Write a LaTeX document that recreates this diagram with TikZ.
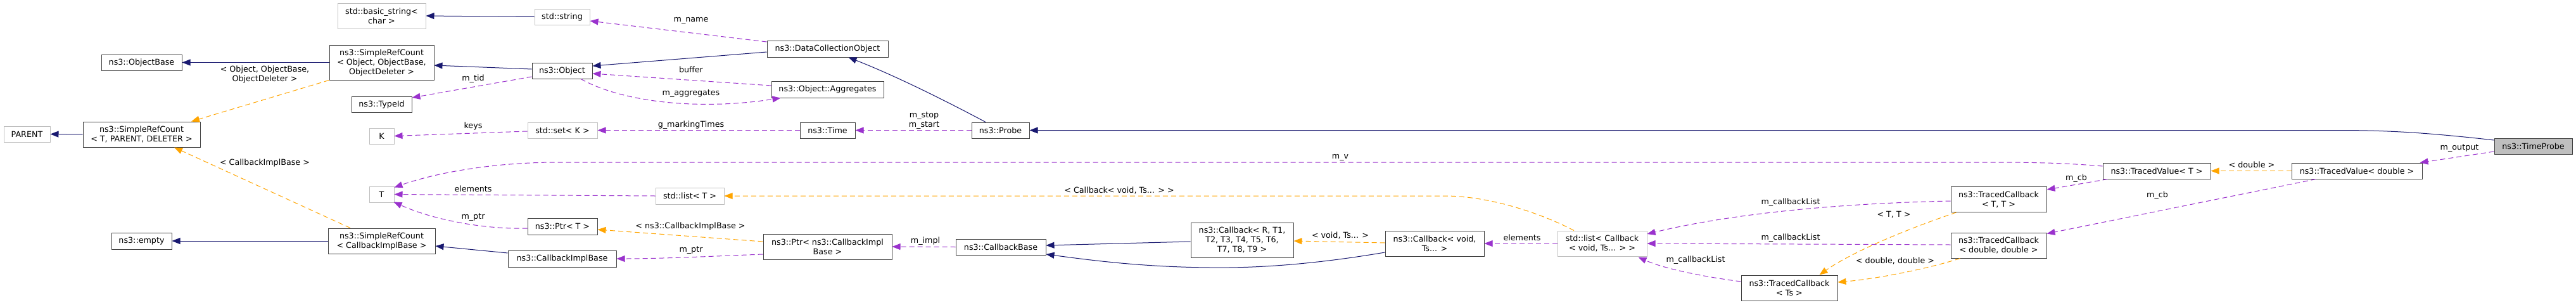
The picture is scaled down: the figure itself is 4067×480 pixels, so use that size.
\documentclass[tikz,border=0pt]{standalone}
\usepackage{fontspec}
\setmainfont{DejaVu Sans}
\usetikzlibrary{arrows.meta}
\definecolor{inhcol}{HTML}{191970}
\definecolor{usecol}{HTML}{9A32CD}
\definecolor{tplcol}{HTML}{FFA500}
\definecolor{bordcol}{HTML}{404040}
\definecolor{lightbord}{HTML}{BFBFBF}
\definecolor{focusfill}{HTML}{BFBFBF}
\begin{document}
\begin{tikzpicture}[x=1pt,y=-1pt,
  every node/.style={font=\fontsize{12.7pt}{15pt}\selectfont, inner sep=0pt, align=center, text=black},
  cls/.style 2 args={draw=bordcol, line width=1pt, fill=white, minimum width=#1pt, minimum height=#2pt},
  gcls/.style 2 args={draw=lightbord, line width=1pt, fill=white, minimum width=#1pt, minimum height=#2pt},
  fcls/.style 2 args={draw=bordcol, line width=1pt, fill=focusfill, minimum width=#1pt, minimum height=#2pt},
  lbl/.style={},
  inh/.style={draw=inhcol, line width=1pt, -{Triangle[length=13pt,width=10pt]}},
  use/.style={draw=usecol, line width=1pt, dash pattern=on 8pt off 5pt, -{Triangle[length=13pt,width=10pt]}},
  tpl/.style={draw=tplcol, line width=1pt, dash pattern=on 8pt off 5pt, -{Triangle[length=13pt,width=10pt]}}]
\useasboundingbox (0,0) rectangle (4067,480);
\fill[white] (0,0) rectangle (4067,480);

% nodes
\node[gcls={73}{25}] (parent) at (42.5,211.5) {PARENT};
\node[cls={185}{40}] (srctpd) at (223.5,212) {ns3::SimpleRefCount\\< T, PARENT, DELETER >};
\node[cls={127}{25}] (objbase) at (223.5,98.5) {ns3::ObjectBase};
\node[cls={95}{26}] (empty) at (223.5,380) {ns3::empty};
\node[gcls={139}{40}] (bstr) at (602.5,25) {std::basic\_string<\\char >};
\node[cls={165}{55}] (srcobj) at (602.5,98.5) {ns3::SimpleRefCount\\< Object, ObjectBase,\\ObjectDeleter >};
\node[cls={95}{25}] (typeid) at (602.5,164.5) {ns3::TypeId};
\node[gcls={39}{25}] (K) at (602.5,214.5) {K};
\node[gcls={39}{25}] (T) at (602.5,306.5) {T};
\node[cls={169}{40}] (srccib) at (602.5,380) {ns3::SimpleRefCount\\< CallbackImplBase >};
\node[gcls={87}{25}] (str) at (887.5,26.5) {std::string};
\node[cls={95}{25}] (obj) at (887.5,111.5) {ns3::Object};
\node[gcls={110}{25}] (setK) at (888,205.5) {std::set< K >};
\node[cls={110}{26}] (ptrT) at (888,357) {ns3::Ptr< T >};
\node[cls={171}{26}] (cib) at (887.5,408) {ns3::CallbackImplBase};
\node[gcls={108}{26}] (listT) at (1089,309) {std::list< T >};
\node[cls={191}{26}] (dco) at (1306.5,77) {ns3::DataCollectionObject};
\node[cls={177}{26}] (aggr) at (1306.5,141) {ns3::Object::Aggregates};
\node[cls={87}{25}] (time) at (1306.5,205.5) {ns3::Time};
\node[cls={203}{40}] (pcib) at (1306.5,389) {ns3::Ptr< ns3::CallbackImpl\\Base >};
\node[cls={91}{25}] (probe) at (1579.5,205.5) {ns3::Probe};
\node[cls={142}{25}] (cbase) at (1580,389.5) {ns3::CallbackBase};
\node[cls={162}{55}] (cbR) at (1961,378.5) {ns3::Callback< R, T1,\\T2, T3, T4, T5, T6,\\T7, T8, T9 >};
\node[cls={156}{40}] (cbV) at (2265,384) {ns3::Callback< void,\\Ts... >};
\node[gcls={141}{40}] (lcb) at (2529.5,384) {std::list< Callback\\< void, Ts... > >};
\node[cls={152}{40}] (tcTs) at (2825,454) {ns3::TracedCallback\\< Ts >};
\node[cls={151}{40}] (tcTT) at (3155.5,314.5) {ns3::TracedCallback\\< T, T >};
\node[cls={151}{40}] (tcDD) at (3155.5,387) {ns3::TracedCallback\\< double, double >};
\node[cls={170}{25}] (tvT) at (3405,269.5) {ns3::TracedValue< T >};
\node[cls={206}{25}] (tvD) at (3721,269.5) {ns3::TracedValue< double >};
\node[fcls={123}{25}] (tp) at (3999.5,230.5) {ns3::TimeProbe};

% edges
\draw[inh] ([yshift=9.5pt]tp.west) .. controls (3830,209) and (3770,205.5) .. (3690,205.5) -- (probe.east);
\draw[use] ([yshift=-8.5pt]tp.west) -- ([xshift=-4pt]tvD.north east);
\draw[inh] ([xshift=-23.5pt]probe.north) .. controls (1495,160) and (1415,120) .. ([xshift=33pt]dco.south);
\draw[use] (probe.west) -- (time.east);
\draw[inh] ([yshift=-5pt]dco.west) -- ([yshift=7.5pt]obj.east);
\draw[use] ([yshift=11pt]dco.west) -- ([yshift=-6.5pt]str.east);
\draw[use] ([yshift=6pt]aggr.west) -- ([yshift=-4.5pt]obj.east);
\draw[use] ([xshift=29.5pt]obj.south) .. controls (980,160) and (1100,175) .. ([xshift=15pt]aggr.south west);
\draw[use] ([yshift=-9.5pt]obj.west) -- ([yshift=10.5pt]typeid.east);
\draw[inh] ([yshift=2.5pt]obj.west) -- ([yshift=-4.5pt]srcobj.east);
\draw[use] (time.west) -- (setK.east);
\draw[use] ([yshift=-1.5pt]setK.west) -- (K.east);
\draw[inh] (str.west) -- (bstr.east);
\draw[inh] (srcobj.west) -- (objbase.east);
\draw[tpl] (srcobj.south west) -- ([xshift=-14.5pt]srctpd.north east);
\draw[inh] (srctpd.west) -- (parent.east);
\draw[tpl] ([xshift=-49.5pt]srccib.north) -- ([xshift=51.5pt]srctpd.south);
\draw[inh] (srccib.west) -- (empty.east);
\draw[inh] ([yshift=9pt]cib.west) -- ([yshift=-8pt]srccib.east);
\draw[use] ([yshift=-12pt]pcib.west) .. controls (1150,403) and (1050,408) .. (cib.east);
\draw[tpl] ([yshift=8pt]pcib.west) -- ([yshift=-5pt]ptrT.east);
\draw[use] ([yshift=-3pt]ptrT.west) .. controls (760,362) and (680,345) .. ([xshift=-1pt,yshift=1pt]T.south east);
\draw[use] (listT.west) -- (T.east);
\draw[use] ([yshift=7.5pt]tvT.west) .. controls (3260,257) and (3210,256) .. (3150,256) -- (880,256) .. controls (780,256) and (690,272) .. ([yshift=-2pt]T.north east);
\draw[use] (cbase.west) -- (pcib.east);
\draw[inh] ([yshift=-2.5pt]cbR.west) -- ([yshift=2.5pt]cbase.east);
\draw[inh] ([yshift=-14pt]cbV.west) .. controls (2080,416) and (1990,423) .. (1910,422) .. controls (1800,421) and (1720,410) .. ([yshift=-11.5pt]cbase.east);
\draw[tpl] ([yshift=1pt]cbV.west) -- ([yshift=-1.5pt]cbR.east);
\draw[use] (lcb.west) -- (cbV.east);
\draw[tpl] ([xshift=-44.5pt]lcb.north) .. controls (2430,335) and (2350,309) .. (2280,309) -- (listT.east);
\draw[use] ([yshift=-2.5pt]tcTT.west) .. controls (2850,322) and (2700,345) .. ([yshift=15pt]lcb.east);
\draw[use] ([yshift=1pt]tcDD.west) -- (lcb.east);
\draw[use] ([yshift=10pt]tcTs.west) .. controls (2700,438) and (2630,425) .. ([xshift=-14pt,yshift=-1pt]lcb.south east);
\draw[tpl] ([xshift=9pt]tcTT.south west) .. controls (3000,365) and (2920,400) .. ([xshift=-29pt]tcTs.north east);
\draw[tpl] ([xshift=15pt]tcDD.south west) .. controls (3040,425) and (2960,440) .. ([yshift=9pt]tcTs.east);
\draw[use] ([xshift=8pt]tvT.south west) -- ([yshift=-5pt]tcTT.north east);
\draw[use] ([xshift=39pt]tvD.south west) -- ([yshift=-2pt]tcDD.north east);
\draw[tpl] (tvD.west) -- (tvT.east);

% labels
\node[lbl] (lMoutput) at (3883,234) {m\_output};
\node[lbl] (lStop) at (1459,190) {m\_stop\\m\_start};
\node[lbl] (lName) at (1091,32) {m\_name};
\node[lbl] (lBuffer) at (1091,110) {buffer};
\node[lbl] (lAggr) at (1091,148) {m\_aggregates};
\node[lbl] (lTid) at (747,124) {m\_tid};
\node[lbl] (lMark) at (1091,197) {g\_markingTimes};
\node[lbl] (lKeys) at (747,199) {keys};
\node[lbl] (lObjTpl) at (418,117) {< Object, ObjectBase,\\ObjectDeleter >};
\node[lbl] (lCibTpl) at (418,257) {< CallbackImplBase >};
\node[lbl] (lPtr2) at (1091,395) {m\_ptr};
\node[lbl] (lPcibTpl) at (1090,357) {< ns3::CallbackImplBase >};
\node[lbl] (lPtr1) at (747,343) {m\_ptr};
\node[lbl] (lElem1) at (747,298) {elements};
\node[lbl] (lMv) at (2116,248) {m\_v};
\node[lbl] (lImpl) at (1461,380) {m\_impl};
\node[lbl] (lVoid) at (2116,371) {< void, Ts... >};
\node[lbl] (lElem2) at (2403,375) {elements};
\node[lbl] (lCbTpl) at (1767,300) {< Callback< void, Ts... > >};
\node[lbl] (lCL1) at (2827,319) {m\_callbackList};
\node[lbl] (lCL2) at (2827,375) {m\_callbackList};
\node[lbl] (lCL3) at (2677,410) {m\_callbackList};
\node[lbl] (lTT) at (2990,339) {< T, T >};
\node[lbl] (lDD) at (2992,411) {< double, double >};
\node[lbl] (lCb1) at (3278,281) {m\_cb};
\node[lbl] (lCb2) at (3406,308) {m\_cb};
\node[lbl] (lDbl) at (3555,260) {< double >};
\end{tikzpicture}
\end{document}
